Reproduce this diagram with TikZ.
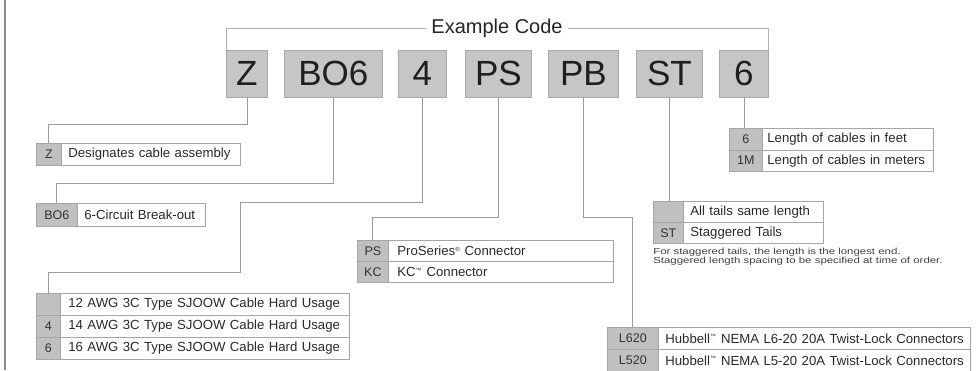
\documentclass[tikz,border=0pt]{standalone}
\usepackage{fontspec}
\setmainfont{Liberation Sans}
\usetikzlibrary{calc}
\definecolor{boxfill}{HTML}{C6C6C6}
\definecolor{boxline}{HTML}{A8A8A8}
\definecolor{cellfill}{HTML}{C0C0C0}
\definecolor{cellline}{HTML}{A6A6A6}
\definecolor{connline}{HTML}{9C9C9C}
\definecolor{codetext}{HTML}{333333}
\definecolor{desctext}{HTML}{2A2A2A}
\tikzset{
  codebox/.style={draw=boxline, fill=boxfill, line width=0.8pt, inner sep=0pt, anchor=north west,
    minimum height=47pt, font=\fontsize{35}{40}\selectfont, text=black!88},
  codecell/.style={draw=cellline, fill=cellfill, line width=0.7pt, inner sep=0pt, anchor=north west,
    font=\fontsize{12.5}{14}\selectfont, text=codetext},
  desccell/.style={draw=cellline, fill=white, line width=0.7pt, inner xsep=4pt, inner ysep=0pt,
    anchor=north west, align=left, font=\fontsize{13.2}{15}\selectfont, text=desctext},
  conn/.style={draw=connline, line width=0.8pt},
  bracket/.style={draw=connline!80, line width=0.7pt}
}
\begin{document}
\begin{tikzpicture}[x=1pt,y=-1pt]
\path[use as bounding box] (0,0) rectangle (977,370);
\clip (0,0) rectangle (977,370);
\fill[white] (0,0) rectangle (977,370);
% left border
\draw[draw=black!45, line width=2pt] (5,0) -- (5,370);

% code boxes
\node[codebox, minimum width=41pt] (cZ)  at (226,50) {Z};
\node[codebox, minimum width=98pt] (cBO) at (284,50) {BO6};
\node[codebox, minimum width=48pt] (c4)  at (398,50) {4};
\node[codebox, minimum width=66pt] (cPS) at (465,50) {PS};
\node[codebox, minimum width=70pt] (cPB) at (548,50) {PB};
\node[codebox, minimum width=66pt] (cST) at (636,50) {ST};
\node[codebox, minimum width=49pt] (c6)  at (719,50) {6};

% title bracket
\node[font=\fontsize{20}{23}\selectfont, text=black!85, inner xsep=5pt] (ex) at (497,28) {Example Code};
\draw[bracket] (cZ.north west) |- (ex.west);
\draw[bracket] (c6.north east) |- (ex.east);

% Z table
\node[codecell, minimum width=25pt, minimum height=22pt] (tZc1) at (36,143) {Z};
\node[desccell, minimum width=179pt, text width=171pt, minimum height=22pt] (tZd1) at (61,143) {\hspace*{3pt}Designates cable assembly};

% BO6 table
\node[codecell, minimum width=41pt, minimum height=23pt] (tBc1) at (36,203) {BO6};
\node[desccell, minimum width=128pt, text width=120pt, minimum height=23pt] (tBd1) at (77,203) {\hspace*{3pt}6-Circuit Break-out};

% 4 table
\node[codecell, minimum width=24pt, minimum height=22pt] (t4c1) at (36,293) {};
\node[desccell, minimum width=289pt, text width=281pt, minimum height=22pt] (t4d1) at (60,293) {\hspace*{4pt}12 AWG 3C Type SJOOW Cable Hard Usage};
\node[codecell, minimum width=24pt, minimum height=22pt] (t4c2) at (36,315) {4};
\node[desccell, minimum width=289pt, text width=281pt, minimum height=22pt] (t4d2) at (60,315) {\hspace*{4pt}14 AWG 3C Type SJOOW Cable Hard Usage};
\node[codecell, minimum width=24pt, minimum height=22pt] (t4c3) at (36,337) {6};
\node[desccell, minimum width=289pt, text width=281pt, minimum height=22pt] (t4d3) at (60,337) {\hspace*{4pt}16 AWG 3C Type SJOOW Cable Hard Usage};

% PS table
\node[codecell, minimum width=31pt, minimum height=21pt] (tPc1) at (357,240) {PS};
\node[desccell, minimum width=225pt, text width=217pt, minimum height=21pt] (tPd1) at (388,240) {\hspace*{5pt}ProSeries\textsuperscript{\fontsize{6}{6}\selectfont ®} Connector};
\node[codecell, minimum width=31pt, minimum height=21pt] (tPc2) at (357,261) {KC};
\node[desccell, minimum width=225pt, text width=217pt, minimum height=21pt] (tPd2) at (388,261) {\hspace*{5pt}KC\textsuperscript{\fontsize{6}{6}\selectfont ™} Connector};

% L620 table
\node[codecell, minimum width=51pt, minimum height=22pt] (tLc1) at (607,327) {L620};
\node[desccell, minimum width=312pt, text width=304pt, minimum height=22pt] (tLd1) at (658,327) {\hspace*{3pt}Hubbell\textsuperscript{\fontsize{6}{6}\selectfont ™} NEMA L6-20 20A Twist-Lock Connectors};
\node[codecell, minimum width=51pt, minimum height=22pt] (tLc2) at (607,349) {L520};
\node[desccell, minimum width=312pt, text width=304pt, minimum height=22pt] (tLd2) at (658,349) {\hspace*{3pt}Hubbell\textsuperscript{\fontsize{6}{6}\selectfont ™} NEMA L5-20 20A Twist-Lock Connectors};

% ST table
\node[codecell, minimum width=30pt, minimum height=21pt] (tSc1) at (653,201) {};
\node[desccell, minimum width=140pt, text width=132pt, minimum height=21pt] (tSd1) at (683,201) {\hspace*{3pt}All tails same length};
\node[codecell, minimum width=30pt, minimum height=21pt] (tSc2) at (653,222) {ST};
\node[desccell, minimum width=140pt, text width=132pt, minimum height=21pt] (tSd2) at (683,222) {\hspace*{3pt}Staggered Tails};
\node[anchor=north west, inner sep=0pt, align=left, font=\fontsize{8.8}{9.6}\selectfont, text=black!75,
  xscale=1.3, transform shape] (note) at (653,247.5) {For staggered tails, the length is the longest end.\\Staggered length spacing to be specified at time of order.};

% 6 table
\node[codecell, minimum width=33pt, minimum height=21.5pt] (t6c1) at (729,128) {6};
\node[desccell, minimum width=171pt, text width=163pt, minimum height=21.5pt] (t6d1) at (762,128) {\hspace*{1pt}Length of cables in feet};
\node[codecell, minimum width=33pt, minimum height=21.5pt] (t6c2) at (729,149.5) {1M};
\node[desccell, minimum width=171pt, text width=163pt, minimum height=21.5pt] (t6d2) at (762,149.5) {\hspace*{1pt}Length of cables in meters};

% connectors
\coordinate (k4a) at (240,202);
\coordinate (k4b) at (240,272);
\draw[conn] (cZ.south) -- ++(0,27) -| (tZc1.north);
\draw[conn] (cBO.south) -- ++(0,86) -| (tBc1.north);
\draw[conn] (c4.south) |- (k4a) -- (k4b) -| (t4c1.north);
\draw[conn] (cPS.south) -- ++(0,120) -| (tPc1.north);
\draw[conn] (cPB.south) -- ++(0,120) -| (tLc1.north);
\draw[conn] (cST.south) -- (cST.south |- tSc1.north);
\draw[conn] (c6.south) -- (c6.south |- t6c1.north);
\end{tikzpicture}
\end{document}
